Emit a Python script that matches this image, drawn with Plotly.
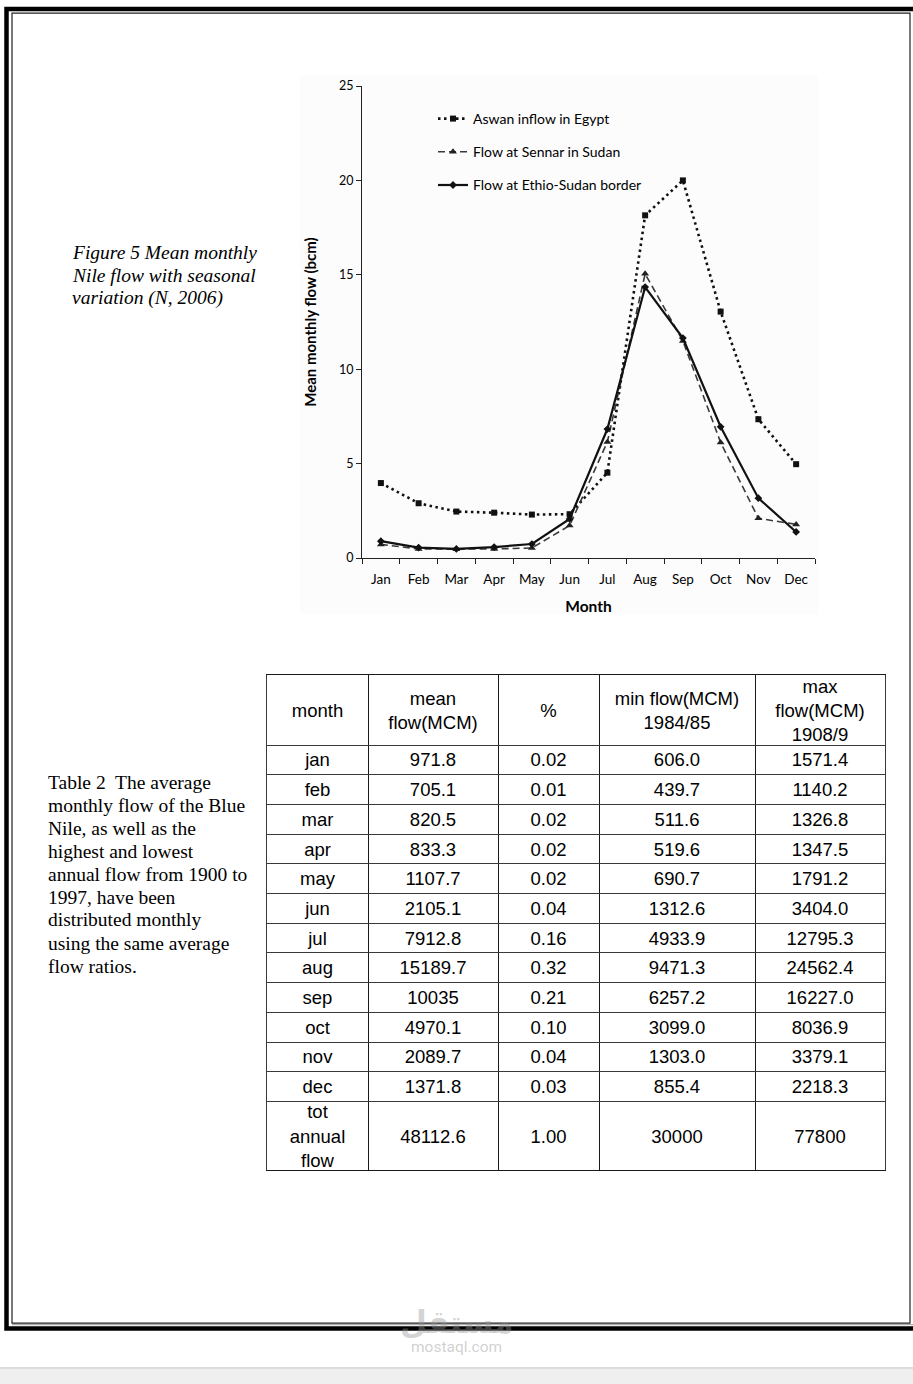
import plotly.graph_objects as go

W, H = 913, 1384

# ---------------- chart data ----------------
months = ["Jan", "Feb", "Mar", "Apr", "May", "Jun", "Jul", "Aug", "Sep", "Oct", "Nov", "Dec"]
aswan = [3.97, 2.9, 2.46, 2.4, 2.3, 2.32, 4.52, 18.15, 20.0, 13.05, 7.35, 4.97]
sennar = [0.72, 0.48, 0.47, 0.48, 0.53, 1.72, 6.15, 15.05, 11.5, 6.12, 2.1, 1.78]
ethio = [0.89, 0.55, 0.48, 0.58, 0.74, 2.07, 6.83, 14.35, 11.65, 6.95, 3.17, 1.38]
series_names = ["Aswan inflow in Egypt", "Flow at Sennar in Sudan", "Flow at Ethio-Sudan border"]
y_ticks = [0, 5, 10, 15, 20, 25]

# ---------------- table data ----------------
tbl_header = ["month", "mean<br>flow(MCM)", "%", "min flow(MCM)<br>1984/85", "max<br>flow(MCM)<br>1908/9"]
tbl_month = ["jan", "feb", "mar", "apr", "may", "jun", "jul", "aug", "sep", "oct", "nov", "dec", "tot<br>annual<br>flow"]
tbl_mean = ["971.8", "705.1", "820.5", "833.3", "1107.7", "2105.1", "7912.8", "15189.7", "10035", "4970.1", "2089.7", "1371.8", "48112.6"]
tbl_pct = ["0.02", "0.01", "0.02", "0.02", "0.02", "0.04", "0.16", "0.32", "0.21", "0.10", "0.04", "0.03", "1.00"]
tbl_min = ["606.0", "439.7", "511.6", "519.6", "690.7", "1312.6", "4933.9", "9471.3", "6257.2", "3099.0", "1303.0", "855.4", "30000"]
tbl_max = ["1571.4", "1140.2", "1326.8", "1347.5", "1791.2", "3404.0", "12795.3", "24562.4", "16227.0", "8036.9", "3379.1", "2218.3", "77800"]

fig_caption = ["Figure 5 Mean monthly", "Nile flow with seasonal", "variation (N, 2006)"]
table_caption = ["Table 2  The average", "monthly flow of the Blue", "Nile, as well as the",
                 "highest and lowest", "annual flow from 1900 to", "1997, have been",
                 "distributed monthly", "using the same average", "flow ratios."]

# table geometry (layout, in pixels)
COL_W = [101, 130, 101, 156, 130]
HEAD_H, ROW_H, TOT_H = 70, 29.7, 69
TBL_X0, TBL_Y0 = 267, 675
TEXT_DY = 2.0


def px(x):
    return x / W


def py(y):
    return 1 - y / H


fig = go.Figure()

CH = "Lato, 'Open Sans', sans-serif"

fig.add_trace(go.Scatter(
    x=months, y=aswan, name=series_names[0], mode="lines+markers",
    line=dict(color="#111", width=2.6, dash="2.5px,3.5px"),
    marker=dict(symbol="square", size=6, color="#111"),
    legendgroup="a", xaxis="x", yaxis="y"))
fig.add_trace(go.Scatter(
    x=months, y=sennar, name=series_names[1], mode="lines+markers",
    line=dict(color="#3a3a3a", width=1.6, dash="7px,4px"),
    marker=dict(symbol="triangle-up", size=7, color="#222"),
    legendgroup="b", xaxis="x", yaxis="y"))
fig.add_trace(go.Scatter(
    x=months, y=ethio, name=series_names[2], mode="lines+markers",
    line=dict(color="#111", width=2.2),
    marker=dict(symbol="diamond", size=6, color="#111"),
    legendgroup="c", xaxis="x", yaxis="y"))

# ---------------- table built on its own axes ----------------
col_bounds = [0]
for w in COL_W:
    col_bounds.append(col_bounds[-1] + w)
n_rows = len(tbl_month)
row_h = [HEAD_H] + [ROW_H] * (n_rows - 1) + [TOT_H]
row_bounds = [0]
for h in row_h:
    row_bounds.append(row_bounds[-1] + h)
col_centers = [(col_bounds[i] + col_bounds[i + 1]) / 2 for i in range(len(COL_W))]
row_centers = [(row_bounds[i] + row_bounds[i + 1]) / 2 + TEXT_DY for i in range(len(row_h))]
tbl_cols = [tbl_month, tbl_mean, tbl_pct, tbl_min, tbl_max]
TBL_W, TBL_H = col_bounds[-1], row_bounds[-1]

tx, ty, tt = [], [], []
for ci, col in enumerate(tbl_cols):
    cells = [tbl_header[ci]] + col
    for ri, v in enumerate(cells):
        tx.append(col_centers[ci])
        ty.append(row_centers[ri])
        tt.append(v)
fig.add_trace(go.Scatter(
    x=tx, y=ty, text=tt, mode="text", textposition="middle center",
    textfont=dict(family="'Liberation Sans', Arial, sans-serif", size=18.5, color="black"),
    hoverinfo="skip", showlegend=False, xaxis="x2", yaxis="y2"))

shapes = []
# faint chart background
shapes.append(dict(type="rect", xref="paper", yref="paper", layer="below",
                   x0=px(300), x1=px(818), y0=py(614), y1=py(75),
                   fillcolor="#fcfcfc", line=dict(width=0)))
# page frame
shapes.append(dict(type="rect", xref="paper", yref="paper", layer="above",
                   x0=px(6.5), x1=px(918), y0=py(1328.5), y1=py(9),
                   line=dict(color="black", width=4.5)))
shapes.append(dict(type="rect", xref="paper", yref="paper", layer="above",
                   x0=px(12), x1=px(910), y0=py(1323.2), y1=py(13.2),
                   line=dict(color="#222", width=1.2)))
shapes.append(dict(type="line", xref="paper", yref="paper", layer="above",
                   x0=px(12), x1=px(913), y0=py(1324.7), y1=py(1324.7),
                   line=dict(color="#999", width=1)))
# bottom grey band
shapes.append(dict(type="rect", xref="paper", yref="paper", layer="above",
                   x0=0, x1=1, y0=0, y1=py(1368),
                   fillcolor="#efefef", line=dict(width=0)))
shapes.append(dict(type="line", xref="paper", yref="paper", layer="above",
                   x0=0, x1=1, y0=py(1368), y1=py(1368),
                   line=dict(color="#dcdcdc", width=2)))

annotations = []
SERIF = "'Liberation Serif', 'Times New Roman', serif"
for i, t in enumerate(fig_caption):
    annotations.append(dict(text="<i>" + t + "</i>", xref="paper", yref="paper",
                            x=px(70), y=py(252 + 23 * i), xanchor="left", yanchor="middle",
                            showarrow=False, font=dict(family=SERIF, size=19.5, color="black")))
for i, t in enumerate(table_caption):
    annotations.append(dict(text=t, xref="paper", yref="paper",
                            x=px(46), y=py(782 + 23 * i), xanchor="left", yanchor="middle",
                            showarrow=False, font=dict(family=SERIF, size=19.5, color="black")))
# watermark
annotations.append(dict(text="<b>مستقل</b>", xref="paper", yref="paper", x=px(456), y=py(1322),
                        xanchor="center", yanchor="middle", showarrow=False,
                        font=dict(family="'DejaVu Sans', sans-serif", size=31, color="rgba(150,150,150,0.42)")))
annotations.append(dict(text="mostaql.com", xref="paper", yref="paper", x=px(456), y=py(1347),
                        xanchor="center", yanchor="middle", showarrow=False,
                        font=dict(family="Roboto, sans-serif", size=15.5, color="rgba(150,150,150,0.45)")))

fig.update_layout(
    width=W, height=H, margin=dict(l=0, r=0, t=0, b=0, pad=0, autoexpand=False),
    paper_bgcolor="white", plot_bgcolor="rgba(0,0,0,0)",
    font=dict(family=CH, color="#111"),
    xaxis=dict(domain=[px(362), px(815)], anchor="y", type="category", range=[-0.5, 11.5],
               tickson="boundaries", ticks="outside", ticklen=5, tickcolor="#222",
               ticklabelstandoff=9,
               showline=True, linecolor="#222", linewidth=1.2, showgrid=False,
               tickfont=dict(family=CH, size=13.5, color="#000"),
               title=dict(text="<b>Month</b>", font=dict(family=CH, size=15.5, color="#000"), standoff=14)),
    yaxis=dict(domain=[py(558), py(86)], anchor="x", range=[0, 25], tickvals=y_ticks,
               ticks="outside", ticklen=5, tickcolor="#222", showline=True, linecolor="#222",
               linewidth=1.2, showgrid=False, zeroline=False,
               tickfont=dict(family=CH, size=12.5, color="#000"),
               title=dict(text="<b>Mean monthly flow (bcm)</b>", font=dict(family=CH, size=15, color="#000"),
                          standoff=18)),
    xaxis2=dict(domain=[px(TBL_X0), px(TBL_X0 + TBL_W)], anchor="y2", range=[0, TBL_W],
                tickvals=col_bounds, showticklabels=False, ticks="", showgrid=True,
                gridcolor="#1a1a1a", gridwidth=1, zeroline=False,
                showline=True, mirror=True, linecolor="#1a1a1a", linewidth=1),
    yaxis2=dict(domain=[py(TBL_Y0 + TBL_H), py(TBL_Y0)], anchor="x2", range=[TBL_H, 0],
                tickvals=row_bounds, showticklabels=False, ticks="", showgrid=True,
                gridcolor="#3a3a3a", gridwidth=1.4, zeroline=False,
                showline=True, mirror=True, linecolor="#3a3a3a", linewidth=1.4),
    legend=dict(x=px(433), y=py(103), xanchor="left", yanchor="top", xref="paper", yref="paper",
                traceorder="grouped", tracegroupgap=12, itemwidth=30, bgcolor="rgba(0,0,0,0)",
                font=dict(family=CH, size=14, color="#000")),
    shapes=shapes, annotations=annotations,
)

fig.write_html("out.html", config={"displayModeBar": False, "responsive": False},
               post_script="document.body.style.margin='0px';")
